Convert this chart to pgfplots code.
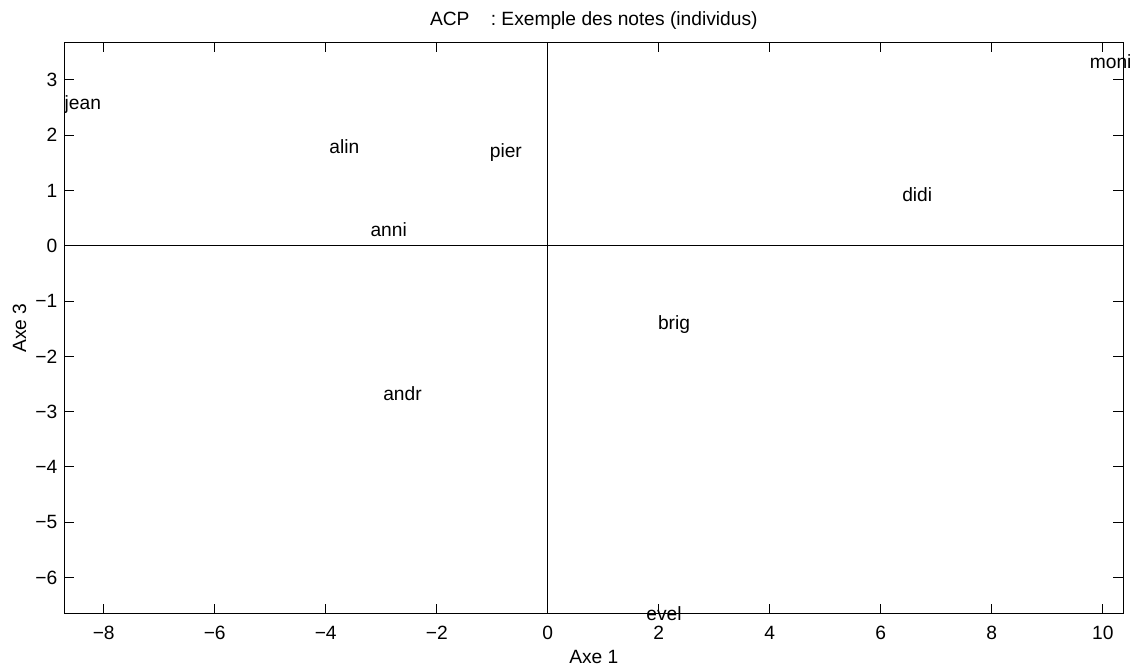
\documentclass[border=0pt]{standalone}
\usepackage{pgfplots}
\pgfplotsset{compat=1.18}
\usepackage{pgfplotstable}
\usepackage{fontspec}
\setmainfont{Liberation Sans}
\pgfplotstableread{
x y label
-8.71 2.55 jean
9.76 3.33 moni
6.38 0.93 didi
-3.94 1.80 alin
-1.05 1.68 pier
-3.20 0.29 anni
1.98 -1.43 brig
-2.97 -2.68 andr
1.77 -6.66 evel
}\pts
\begin{document}
\begin{tikzpicture}[font=\fontsize{9.6pt}{11pt}\selectfont]
\useasboundingbox (-32.15pt,-26.25pt) rectangle (536.85pt,306.75pt);
\begin{axis}[
  scale only axis,
  width=529.5pt, height=285.6pt,
  xmin=-8.71, xmax=10.37, ymin=-6.65, ymax=3.68,
  axis line style={line width=0.5pt},
  every tick/.style={black, line width=0.5pt},
  tick align=inside,
  major tick length=5pt,
  xtick={-8,-6,-4,-2,0,2,4,6,8,10},
  xticklabels={−8,−6,−4,−2,0,2,4,6,8,10},
  ytick={-6,-5,-4,-3,-2,-1,0,1,2,3},
  yticklabels={−6,−5,−4,−3,−2,−1,0,1,2,3},
  xticklabel style={anchor=base, yshift=-13.2pt},
  every axis title/.style={at={(0.5,1)}, anchor=base, inner sep=0pt, yshift=8.3pt},
  title={ACP\ \ \ \ : Exemple des notes (individus)},
  xlabel={Axe 1},
  xlabel style={at={(axis description cs:0.5,-0.0867)}, anchor=base, inner sep=0pt},
  ylabel={Axe 3},
  ylabel style={at={(axis description cs:-0.036,0.5)}, anchor=base, rotate=0, inner sep=0pt},
  clip=false,
]
\addplot[black, line width=0.5pt] coordinates {(-8.71,0) (10.37,0)};
\addplot[black, line width=0.5pt] coordinates {(0,-6.65) (0,3.68)};
\addplot[draw=none, mark=none, nodes near coords, point meta=explicit symbolic,
  every node near coord/.append style={anchor=west, inner sep=0pt, xshift=0pt, yshift=0pt}]
  table[x=x, y=y, meta=label] {\pts};
\end{axis}
\end{tikzpicture}
\end{document}
